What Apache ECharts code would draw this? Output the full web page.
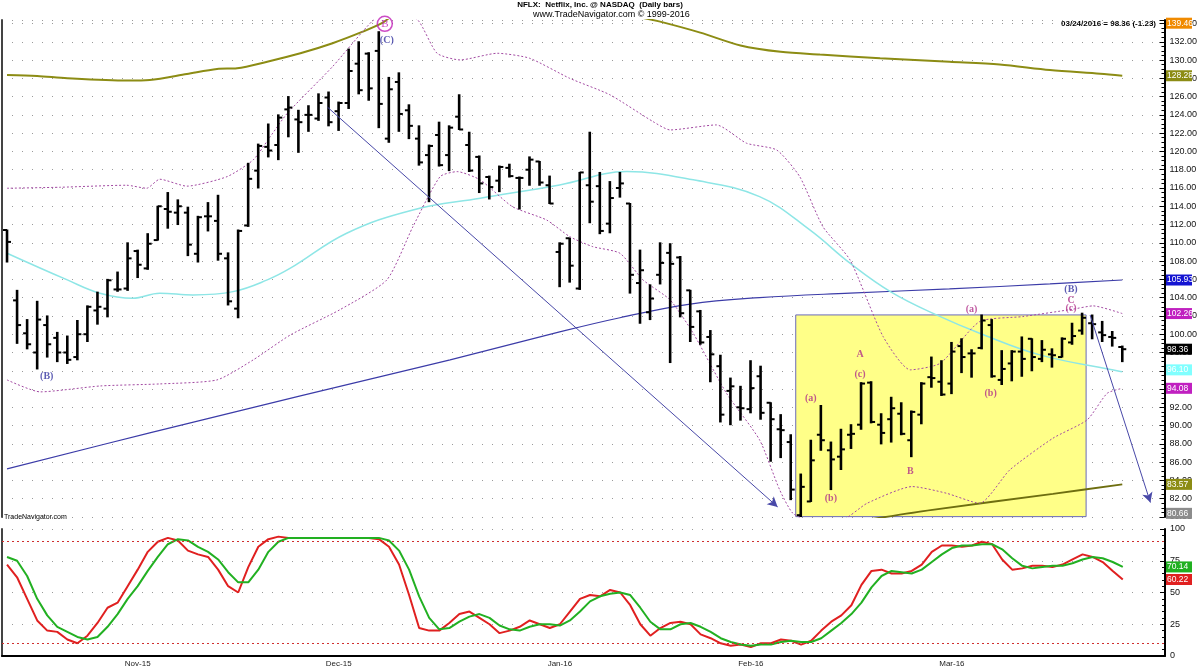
<!DOCTYPE html>
<html><head><meta charset="utf-8">
<script src="https://cdn.jsdelivr.net/npm/echarts@6/dist/echarts.min.js"></script>
<style>html,body{margin:0;padding:0;background:#fff}#c{width:1200px;height:670px}</style>
</head><body><div id="c"></div>
<script>
// ---------- DATA ----------
const dates = [
'2015-10-14','2015-10-15','2015-10-16','2015-10-19','2015-10-20','2015-10-21','2015-10-22','2015-10-23','2015-10-26','2015-10-27','2015-10-28','2015-10-29','2015-10-30',
'2015-11-02','2015-11-03','2015-11-04','2015-11-05','2015-11-06','2015-11-09','2015-11-10','2015-11-11','2015-11-12','2015-11-13','2015-11-16','2015-11-17','2015-11-18','2015-11-19','2015-11-20','2015-11-23','2015-11-24','2015-11-25','2015-11-27','2015-11-30',
'2015-12-01','2015-12-02','2015-12-03','2015-12-04','2015-12-07','2015-12-08','2015-12-09','2015-12-10','2015-12-11','2015-12-14','2015-12-15','2015-12-16','2015-12-17','2015-12-18','2015-12-21','2015-12-22','2015-12-23','2015-12-24','2015-12-28','2015-12-29','2015-12-30','2015-12-31',
'2016-01-04','2016-01-05','2016-01-06','2016-01-07','2016-01-08','2016-01-11','2016-01-12','2016-01-13','2016-01-14','2016-01-15','2016-01-19','2016-01-20','2016-01-21','2016-01-22','2016-01-25','2016-01-26','2016-01-27','2016-01-28','2016-01-29',
'2016-02-01','2016-02-02','2016-02-03','2016-02-04','2016-02-05','2016-02-08','2016-02-09','2016-02-10','2016-02-11','2016-02-12','2016-02-16','2016-02-17','2016-02-18','2016-02-19','2016-02-22','2016-02-23','2016-02-24','2016-02-25','2016-02-26','2016-02-29',
'2016-03-01','2016-03-02','2016-03-03','2016-03-04','2016-03-07','2016-03-08','2016-03-09','2016-03-10','2016-03-11','2016-03-14','2016-03-15','2016-03-16','2016-03-17','2016-03-18','2016-03-21','2016-03-22','2016-03-23','2016-03-24'];

const open  = [111.4,103.7,100.1,98.0,101.0,99.6,98.0,97.5,100.0,102.6,102.8,104.9,105.0,109.1,107.2,110.3,113.7,113.3,113.3,108.8,112.9,112.4,108.3,102.8,111.9,117.9,120.5,120.7,124.6,123.5,124.0,123.6,125.9,124.4,125.3,129.6,130.7,131.0,121.4,127.6,124.5,121.4,119.6,121.8,119.6,123.8,120.7,119.4,117.2,116.8,118.2,117.1,118.0,118.9,116.3,109.0,110.5,105.0,116.3,116.2,112.1,116.0,114.3,105.6,102.4,106.5,108.9,108.4,104.8,102.5,99.7,96.5,93.8,92.0,91.8,95.4,92.5,89.6,88.2,80.2,81.7,89.0,87.3,86.6,89.0,90.1,94.7,90.1,90.7,91.3,88.4,91.2,95.3,94.8,94.6,98.7,97.9,98.5,101.0,95.0,96.8,98.1,99.5,97.3,97.8,97.5,99.1,100.4,101.2,100.2,99.7,98.6];
const high  = [111.4,104.8,101.6,103.6,102.0,100.2,99.8,101.5,103.1,104.6,106.0,106.8,110.0,109.2,111.0,114.0,115.5,114.7,113.9,112.9,114.4,115.2,108.9,111.4,118.7,120.8,123.0,124.0,126.0,124.5,125.0,126.3,126.5,125.4,131.2,132.0,130.8,133.1,128.1,128.6,125.1,122.8,120.7,123.2,122.8,126.2,122.1,119.5,117.3,118.4,118.6,117.2,119.4,118.9,117.3,110.0,110.5,117.7,122.1,117.7,116.7,117.7,114.3,109.2,105.4,110.0,109.9,108.5,104.8,102.6,100.4,97.7,95.2,94.3,97.1,96.5,92.5,91.2,89.0,84.7,88.4,92.2,88.2,89.6,90.1,94.7,94.8,91.3,93.1,92.5,91.6,94.7,97.5,97.1,99.1,99.5,98.3,102.1,101.6,98.2,98.2,99.7,99.5,99.3,98.4,99.6,101.2,102.3,102.1,101.4,100.3,98.7];
const low   = [107.9,99.0,98.4,96.2,97.5,97.0,96.8,97.2,99.2,101.1,101.9,104.7,104.8,106.2,107.1,110.3,111.6,112.0,108.6,107.9,111.3,108.1,103.2,101.8,111.8,116.0,119.4,119.1,121.6,119.9,122.2,123.4,122.8,122.3,124.7,126.3,125.6,122.6,121.0,122.2,121.4,118.5,114.5,118.4,117.9,122.4,117.8,115.5,114.8,115.6,117.2,113.7,116.3,116.3,114.3,105.2,105.7,104.9,112.2,111.0,111.1,115.0,104.5,101.2,101.6,105.5,96.9,101.9,99.2,98.9,94.8,90.4,90.1,90.6,91.4,90.7,86.1,86.5,81.9,80.0,81.7,87.3,83.0,85.2,87.5,89.6,90.3,88.0,88.2,89.0,86.6,90.2,94.2,93.3,93.5,95.8,95.3,98.4,95.3,94.5,94.9,95.4,96.0,97.0,96.4,97.5,98.9,100.0,99.5,99.2,98.7,97.0];
const close = [110.1,101.0,98.9,101.6,98.9,98.0,97.2,100.0,103.0,103.0,105.9,104.9,108.3,107.6,109.9,114.0,113.4,114.0,109.8,112.8,112.9,108.8,103.6,111.3,117.0,120.6,120.1,123.7,124.8,123.2,124.0,125.3,123.2,125.3,128.8,126.7,126.9,125.2,126.8,124.1,122.8,118.8,120.6,118.5,122.6,122.4,117.9,116.5,116.1,118.3,117.3,117.1,119.1,116.6,114.3,109.9,107.5,117.7,114.5,111.3,114.9,116.5,106.5,107.0,103.9,107.8,107.7,102.3,100.8,99.1,97.8,91.2,94.3,91.9,94.1,91.4,90.7,89.5,83.0,83.3,86.2,88.4,86.3,87.4,89.1,94.6,90.4,89.2,91.9,89.1,91.5,94.6,95.2,93.4,98.1,97.5,97.9,101.5,95.4,96.2,98.1,97.3,97.5,98.3,97.7,99.5,99.8,101.8,101.1,99.9,99.6,98.36];

// overlays: [bar index, price]
const envUpper = [[0,128.37],[3,128.26],[6,128.0],[12,127.75],[14.2,127.82],[17.9,128.48],[20.9,129.03],[22.9,129.1],[25.9,129.82],[29.2,130.74],[32.4,131.84],[35.4,133.1],[37.4,134.09],[39.5,135.6],[61,135.6],[63,134.7],[65,134.2],[69,133.0],[73,131.6],[77,130.9],[80.9,130.6],[86.9,130.2],[93.8,129.8],[98.8,129.5],[103.8,128.9],[108.8,128.5],[111,128.28]];
const envLower = [[84.9,79.57],[92.1,80.78],[104.1,82.53],[111,83.57]];
const maSlow = [[0,85.26],[14.2,89.2],[29.2,93.25],[44.1,97.2],[55,100.25],[61,101.8],[68,103.3],[74.9,104.0],[83.9,104.5],[93.8,104.96],[103.8,105.5],[111,105.93]];
const maFast = [[0,108.86],[6,105.94],[9.25,104.49],[12.5,103.94],[15.2,104.49],[18.5,104.3],[22.5,104.66],[25.9,105.94],[28.2,107.22],[33.8,111.05],[40.4,113.6],[47.1,114.88],[55,116.33],[61.7,117.79],[68.3,116.89],[74.9,115.05],[79.9,111.41],[83.9,107.77],[88,104.6],[92.5,102.11],[96.8,100.11],[102.8,97.74],[110.7,95.95],[111,95.9]];
const bbUpper = [[0,115.97],[5.3,116.08],[11.9,116.3],[13.9,115.97],[15.2,116.96],[17.9,116.2],[21.9,117.24],[24.5,119.07],[26.2,121.62],[27.9,124.18],[32.4,129.28],[36.4,134.3],[38.6,135.6],[40.9,134.36],[42.8,130.74],[45.1,130.01],[48.8,130.74],[52,130.2],[56,128.0],[60,126.2],[64.3,123.26],[66,122.35],[70.6,122.9],[73.6,120.9],[76.6,120.16],[78.9,117.24],[81.2,111.77],[83.9,108.13],[87.2,99.74],[89.9,96.1],[92.9,96.83],[96.8,101.38],[101.1,101.93],[106.1,102.74],[108.1,103.1],[111,102.26]];
const bbLower = [[0,95.0],[3.3,93.69],[9.3,94.34],[15.2,94.56],[20.9,95.0],[24.5,97.19],[28.2,99.92],[33.1,102.66],[37.8,105.94],[40.4,111.77],[43.1,117.24],[44.8,117.79],[47.1,116.88],[50.3,113.96],[53.7,112.5],[56,110.68],[58.3,109.58],[61,108.86],[63.3,105.94],[66,103.75],[68.3,100.1],[71.6,93.55],[74.9,88.44],[76.9,82.97],[78.2,80.42],[79.9,79.6],[82.9,79.6],[85.6,81.5],[90.1,83.33],[93.5,82.6],[96.8,81.5],[99.8,85.15],[104.1,88.62],[107.5,90.62],[109.5,93.54],[111,94.08]];

const stochK = [72,62,45,28,20,19,13,10,16,26, 38,42,55,68,82,90,93,91,83,80, 78,68,55,50,70,86,92,94,93,93, 93,93,93,93,93,93,93,92,86,72, 48,22,20,20,26,33,35,30,25,18, 20,23,28,25,22,25,35,45,48,47, 52,50,40,25,16,22,26,27,25,17, 14,10,8,9,7,10,10,13,12,9, 12,20,27,32,40,56,67,68,65,65, 67,72,82,87,87,86,87,90,88,76, 68,69,71,71,70,72,76,80,78,74, 67,60.22];
const stochD = [78,75,63,45,32,23,19,15,13,15, 23,33,45,55,67,78,88,92,91,86, 82,76,66,58,58,68,82,90,93,93, 93,93,93,93,93,93,93,93,91,83, 68,47,30,21,22,27,31,33,30,24, 21,20,23,25,25,24,28,35,43,47, 49,50,48,38,27,21,21,25,26,23, 19,14,11,9,8,9,9,11,12,11, 11,14,20,26,33,42,54,63,67,66, 65,68,74,80,85,87,87,88,88,84, 77,71,69,70,71,71,73,76,78,77, 74,70.14];

const monthTickIdx = [13,33,55,74,94];
const monthLabels = ['Nov-15','Dec-15','Jan-16','Feb-16','Mar-16'];

// wave annotations [text, bar index, price, kind]
const waveText = ['(B)','(C)','(a)','(b)','A','(c)','B','(a)','(b)','(B)','C','(c)'];
const waveIdx  = [3.95,37.8,80.0,82.0,84.9,84.9,89.9,96.0,97.9,105.9,105.9,105.9];
const wavePrice= [95.36,132.2,93.0,82.06,97.84,95.55,84.97,102.66,93.47,104.92,103.75,102.84];
const waveKind = ['n','n','m','m','m','m','m','m','m','n','m','m'];
const circledB = [37.6,133.96];

const boxCorners = [[78.5,102.11],[107.4,80.04]];
const trend1 = [[31.9,124.84],[76.7,81.1]];
const trend2 = [[107.8,102.1],[113.8,81.58]];

const priceTags = [[139.46,'139.46','#f08a00'],[128.28,'128.28','#8c8c14'],[105.93,'105.93','#1414d2'],[102.26,'102.26','#c020c0'],[98.36,'98.36','#000000'],[96.10,'96.10','#80ffff'],[94.08,'94.08','#c020c0'],[83.57,'83.57','#8c8c14'],[79.0,'80.66','#8c8c8c']];
const stochTags = [[70.14,'70.14','#20b020'],[60.22,'60.22','#e02020']];

// ---------- CHART ----------
const Y0MIN = 80, Y0MAX = 134.38, XMIN = -0.5, XMAX = 115.2;
const chart = echarts.init(document.getElementById('c'));
const ohlc = open.map((o,i)=>[i,o,high[i],low[i],close[i]]);
const dotted = {color:'#9a9a9a', type:[1,9], width:1};
const MAG = '#b0308a', NAVY = '#3434a0';

const waveData = waveText.map((t,i)=>({
  value:[waveIdx[i], wavePrice[i]],
  label:{show:true, formatter:t, position:'inside', color: waveKind[i]==='n'?NAVY:MAG,
    fontFamily:'Liberation Serif', fontWeight:'bold', fontSize:10}
}));

const option = {
  animation:false,
  backgroundColor:'#fff',
  grid:[
    {left:2, right:35, top:20, height:497},
    {left:2, right:35, top:529, height:127}
  ],
  xAxis:[
    {type:'value', gridIndex:0, min:XMIN, max:XMAX, axisLine:{show:false}, axisTick:{show:false}, axisLabel:{show:false}, splitLine:{show:false}},
    {type:'value', gridIndex:1, min:XMIN, max:XMAX, axisLine:{show:true, lineStyle:{color:'#000', width:2}}, axisTick:{show:false},
     splitLine:{show:false},
     axisLabel:{show:true, customValues:monthTickIdx, fontSize:8, color:'#222', fontFamily:'Liberation Sans', margin:4,
       formatter:(v)=>{const k=monthTickIdx.indexOf(Math.round(v)); return k>=0?monthLabels[k]:'';}}}
  ],
  yAxis:[
    {type:'value', gridIndex:0, position:'right', min:Y0MIN, max:Y0MAX, interval:2,
     axisLine:{show:true, onZero:false, lineStyle:{color:'#000', width:2}},
     axisTick:{show:true, inside:true, length:5, lineStyle:{color:'#000'}},
     minorTick:{show:true, splitNumber:4, length:3, lineStyle:{color:'#000'}},
     axisLabel:{fontSize:9, color:'#111', fontFamily:'Liberation Sans', margin:5, formatter:(v)=>v.toFixed(2), showMaxLabel:false},
     splitLine:{show:true, lineStyle:dotted}},
    {type:'value', gridIndex:1, position:'right', min:0, max:100, interval:25,
     axisLine:{show:true, onZero:false, lineStyle:{color:'#000', width:2}},
     axisTick:{show:true, inside:true, length:5, lineStyle:{color:'#000'}},
     minorTick:{show:true, splitNumber:5, length:3, lineStyle:{color:'#000'}},
     axisLabel:{fontSize:9, color:'#111', fontFamily:'Liberation Sans', margin:5},
     splitLine:{show:true, lineStyle:dotted}},
    {type:'value', gridIndex:0, position:'left', min:Y0MIN, max:Y0MAX, axisLine:{show:true, onZero:false, lineStyle:{color:'#444', width:2}}, axisTick:{show:false}, axisLabel:{show:false}, splitLine:{show:false}},
    {type:'value', gridIndex:1, position:'left', min:0, max:100, axisLine:{show:true, onZero:false, lineStyle:{color:'#444', width:2}}, axisTick:{show:false}, axisLabel:{show:false}, splitLine:{show:false}}
  ],
  series:[
    {type:'line', name:'box', xAxisIndex:0, yAxisIndex:0, data:[], z:1, silent:true,
     markArea:{silent:true, itemStyle:{color:'#ffff88', borderColor:'#6a6ab8', borderWidth:1},
       data:[[{coord:boxCorners[0]},{coord:boxCorners[1]}]]}},
    {type:'line', name:'envUpper', xAxisIndex:0, yAxisIndex:0, data:envUpper, smooth:0.3, showSymbol:false, z:2, lineStyle:{color:'#8c8c14', width:2}},
    {type:'line', name:'envLower', xAxisIndex:0, yAxisIndex:0, data:envLower, smooth:0.3, showSymbol:false, z:2, lineStyle:{color:'#6e6e10', width:2}},
    {type:'line', name:'maSlow', xAxisIndex:0, yAxisIndex:0, data:maSlow, smooth:0.4, showSymbol:false, z:2, lineStyle:{color:'#3c3ca8', width:1.2}},
    {type:'line', name:'maFast', xAxisIndex:0, yAxisIndex:0, data:maFast, smooth:0.4, showSymbol:false, z:2, lineStyle:{color:'#8ee6e6', width:1.5}},
    {type:'line', name:'bbUpper', xAxisIndex:0, yAxisIndex:0, data:bbUpper, smooth:0.2, showSymbol:false, z:2, lineStyle:{color:'#a24aa2', width:1, type:[2,2]}},
    {type:'line', name:'bbLower', xAxisIndex:0, yAxisIndex:0, data:bbLower, smooth:0.2, showSymbol:false, z:2, lineStyle:{color:'#a24aa2', width:1, type:[2,2]}},
    {type:'line', name:'trends', xAxisIndex:0, yAxisIndex:0, data:[], z:3,
     markLine:{silent:true, symbol:['none','arrow'], symbolSize:[8,10], lineStyle:{color:'#4848a8', width:1, type:'solid'}, label:{show:false},
       data:[[{coord:trend1[0]},{coord:trend1[1]}],[{coord:trend2[0]},{coord:trend2[1]}]]}},
    {type:'custom', name:'NFLX', xAxisIndex:0, yAxisIndex:0, data:ohlc, z:4, clip:true,
     encode:{x:0, y:[1,2,3,4]},
     renderItem:(params, api)=>{
       const x=api.value(0);
       const pH=api.coord([x,api.value(2)]), pL=api.coord([x,api.value(3)]);
       const pO=api.coord([x,api.value(1)]), pC=api.coord([x,api.value(4)]);
       const st={stroke:'#000', lineWidth:2.6};
       return {type:'group', children:[
         {type:'line', shape:{x1:pH[0],y1:pH[1]-0.5,x2:pL[0],y2:pL[1]+0.5}, style:st},
         {type:'line', shape:{x1:pO[0]-4,y1:pO[1],x2:pO[0],y2:pO[1]}, style:{stroke:'#000', lineWidth:2}},
         {type:'line', shape:{x1:pC[0],y1:pC[1],x2:pC[0]+4,y2:pC[1]}, style:{stroke:'#000', lineWidth:2}}
       ]};
     }},
    {type:'scatter', name:'waves', xAxisIndex:0, yAxisIndex:0, symbolSize:1, itemStyle:{color:'rgba(0,0,0,0)'}, z:5, data:waveData},
    {type:'scatter', name:'circB', xAxisIndex:0, yAxisIndex:0, symbol:'circle', symbolSize:15, z:5,
     itemStyle:{color:'rgba(255,255,255,0)', borderColor:'#c020b8', borderWidth:1.5},
     label:{show:true, position:'inside', formatter:'B', color:'#c020b8', fontFamily:'Liberation Serif', fontSize:11},
     data:[circledB]},
    {type:'line', name:'%K', xAxisIndex:1, yAxisIndex:1, data:stochK.map((v,i)=>[i,v]), showSymbol:false, z:3, lineStyle:{color:'#e02020', width:2},
     markLine:{silent:true, symbol:'none', label:{show:false}, lineStyle:{color:'#d03030', type:[2,3], width:1}, data:[{yAxis:90},{yAxis:10}]}},
    {type:'line', name:'%D', xAxisIndex:1, yAxisIndex:1, data:stochD.map((v,i)=>[i,v]), showSymbol:false, z:3, lineStyle:{color:'#22b022', width:2}}
  ]
};
chart.setOption(option);

// text + value tags
const g = [];
g.push({type:'text', left:'center', top:1, style:{text:'NFLX:  Netflix, Inc. @ NASDAQ  (Daily bars)', font:'bold 8px "Liberation Sans"', fill:'#000'}});
g.push({type:'text', x:533, y:10, style:{text:'www.TradeNavigator.com \u00a9 1999-2016', font:'9px "Liberation Sans"', fill:'#000'}});
g.push({type:'text', x:1156, y:20, style:{text:'03/24/2016 = 98.36 (-1.23)', font:'bold 8px "Liberation Sans"', fill:'#000', align:'right'}});
g.push({type:'text', x:4, y:514, style:{text:'TradeNavigator.com', font:'7px "Liberation Sans"', fill:'#000'}});
const tagX = 1166;
function addTag(y, t, bg){
  g.push({type:'rect', shape:{x:tagX, y:y-5.5, width:26, height:11}, style:{fill:bg}, z:100});
  g.push({type:'text', x:tagX+1, y:y-4.5, style:{text:t, font:'8.5px "Liberation Sans"', fill:'#fff'}, z:101});
}
priceTags.forEach(([v,t,bg])=>{
  const vv = Math.min(Math.max(v, Y0MIN+0.4), Y0MAX-0.35);
  addTag(chart.convertToPixel({yAxisIndex:0}, vv), t, bg);
});
stochTags.forEach(([v,t,bg])=>{
  addTag(chart.convertToPixel({yAxisIndex:1}, v), t, bg);
});
chart.setOption({graphic:g});
</script></body></html>
